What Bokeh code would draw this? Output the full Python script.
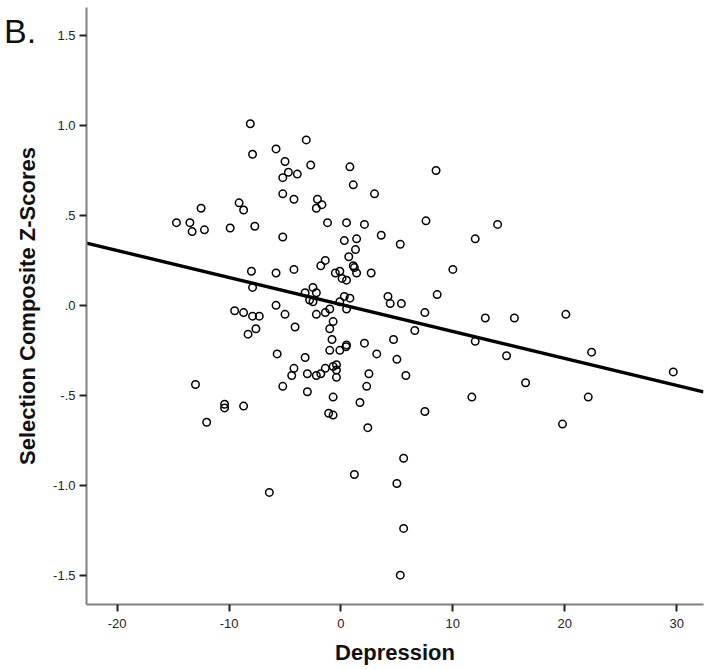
from bokeh.plotting import figure
from bokeh.models import Range1d, FixedTicker, Div
from bokeh.layouts import column
from bokeh.embed import file_html
from bokeh.resources import INLINE

# ---- data ----
depression = [
    -8.1, -7.9, -5.8, -3.1, -5.0, -4.7, -5.2, -3.9, -2.7, 0.8, 1.1, -5.2, -4.2, -2.1,
    -2.2, -1.7, -12.5, -9.1, -8.7, -14.7, -13.5, -13.3, -12.2, -9.9, -7.7, -5.2, -1.2,
    0.5, 0.3, 0.7, -8.0, -5.8, -4.2, -7.9, -1.4, -1.8, -0.5, -0.1, 0.1, 0.5, -3.2, -2.5,
    -2.2, 0.3, 3.0, 8.5, 2.1, 1.4, 3.6, 5.3, 7.6, 14.0, 12.0, 1.3, 1.1, 1.2, 1.4, 2.7,
    10.0, 0.8, 4.2, 8.6, -2.8, -2.5, -9.5, -8.7, -7.9, -7.3, -5.8, -5.0, -4.1, -2.2,
    -1.4, -1.0, -0.1, 0.5, -0.7, -1.0, -7.6, -8.3, -0.8, 0.5, 0.45, -0.1, -1.0, -5.7,
    -3.2, -4.2, -4.4, -3.0, -2.2, -1.8, -1.4, -0.7, -0.4, -0.4, -0.4, -13.0, -5.2, -3.0,
    -0.7, -10.4, -10.4, -8.7, -1.1, -0.7, -12.0, 4.4, 5.4, 7.5, 12.9, 6.6, 12.0, 2.1,
    3.2, 4.7, 5.0, 2.5, 5.8, 2.3, 1.7, 7.5, 2.4, 11.7, 15.5, 20.1, 14.8, 22.4, 29.7,
    16.5, 22.1, 19.8, 5.6, 1.2, 5.0, -6.4, 5.6, 5.3,
]
zscores = [
    1.01, 0.84, 0.87, 0.92, 0.80, 0.74, 0.71, 0.73, 0.78, 0.77, 0.67, 0.62, 0.59, 0.59,
    0.54, 0.56, 0.54, 0.57, 0.53, 0.46, 0.46, 0.41, 0.42, 0.43, 0.44, 0.38, 0.46,
    0.46, 0.36, 0.27, 0.19, 0.18, 0.20, 0.10, 0.25, 0.22, 0.18, 0.19, 0.15, 0.14, 0.07, 0.10,
    0.07, 0.05, 0.62, 0.75, 0.45, 0.37, 0.39, 0.34, 0.47, 0.45, 0.37, 0.31, 0.22, 0.21, 0.18, 0.18,
    0.20, 0.04, 0.05, 0.06, 0.03, 0.02, -0.03, -0.04, -0.06, -0.06, 0.00, -0.05, -0.12, -0.05,
    -0.04, -0.02, 0.02, -0.02, -0.09, -0.13, -0.13, -0.16, -0.19, -0.22, -0.23, -0.25, -0.25, -0.27,
    -0.29, -0.35, -0.39, -0.38, -0.39, -0.38, -0.35, -0.34, -0.33, -0.36, -0.40, -0.44, -0.45, -0.48,
    -0.51, -0.55, -0.57, -0.56, -0.60, -0.61, -0.65, 0.01, 0.01, -0.04, -0.07, -0.14, -0.20, -0.21,
    -0.27, -0.19, -0.30, -0.38, -0.39, -0.45, -0.54, -0.59, -0.68, -0.51, -0.07, -0.05, -0.28, -0.26, -0.37,
    -0.43, -0.51, -0.66, -0.85, -0.94, -0.99, -1.04, -1.24, -1.50,
]

# fitted regression line
fit_intercept = 0.005
fit_slope = -0.015

x_ticks = [-20, -10, 0, 10, 20, 30]
x_tick_labels = ["-20", "-10", "0", "10", "20", "30"]
y_ticks = [1.5, 1.0, 0.5, 0.0, -0.5, -1.0, -1.5]
y_tick_labels = ["1.5", "1.0", ".5", ".0", "-.5", "-1.0", "-1.5"]

panel_label = "B."
x_title = "Depression"
y_title = "Selection Composite Z-Scores"

X_START, X_END = -22.74, 32.4
Y_START, Y_END = -1.663, 1.656

FONT = "Liberation Sans"

p = figure(
    width=712, height=669,
    x_range=Range1d(X_START, X_END), y_range=Range1d(Y_START, Y_END),
    output_backend="svg", toolbar_location=None,
    min_border_left=86, min_border_right=9, min_border_top=7, min_border_bottom=65,
)
p.outline_line_color = None
p.xgrid.visible = False
p.ygrid.visible = False
p.background_fill_color = "white"
p.border_fill_color = None

# regression line
line_x = [X_START, X_END]
line_y = [fit_intercept + fit_slope * v for v in line_x]
p.line(line_x, line_y, line_color="black", line_width=3.4)

# scatter points
p.scatter(depression, zscores, marker="circle", size=7.5,
          fill_color=None, line_color="black", line_width=1.5)

for ax in (p.xaxis[0], p.yaxis[0]):
    ax.axis_line_color = "#808080"
    ax.axis_line_width = 2
    ax.major_tick_line_color = "#222222"
    ax.major_tick_line_width = 2
    ax.major_tick_out = 7
    ax.major_tick_in = 0
    ax.minor_tick_line_color = None
    ax.major_label_text_font = FONT
    ax.major_label_text_font_size = "13px"
    ax.major_label_text_color = "#222222"
    ax.axis_label_text_font = FONT
    ax.axis_label_text_font_style = "bold"
    ax.axis_label_text_font_size = "22px"
    ax.axis_label_text_color = "#111111"

p.xaxis[0].ticker = FixedTicker(ticks=x_ticks)
p.xaxis[0].major_label_overrides = {t: s for t, s in zip(x_ticks, x_tick_labels)}
p.xaxis[0].major_label_standoff = 7
p.xaxis[0].axis_label = x_title
p.xaxis[0].axis_label_standoff = 9

p.yaxis[0].ticker = FixedTicker(ticks=y_ticks)
p.yaxis[0].major_label_overrides = {t: s for t, s in zip(y_ticks, y_tick_labels)}
p.yaxis[0].major_label_standoff = 4
p.yaxis[0].axis_label = y_title
p.yaxis[0].axis_label_standoff = 10

label_div = Div(
    text=panel_label, width=60, height=50,
    styles={
        "position": "absolute", "left": "4px", "top": "14px", "z-index": "10",
        "font-family": FONT, "font-size": "34px", "line-height": "1",
        "color": "#111111", "margin": "0", "padding": "0",
    },
)

layout = column(label_div, p, spacing=0)

open("out.html", "w").write(file_html(layout, INLINE))
